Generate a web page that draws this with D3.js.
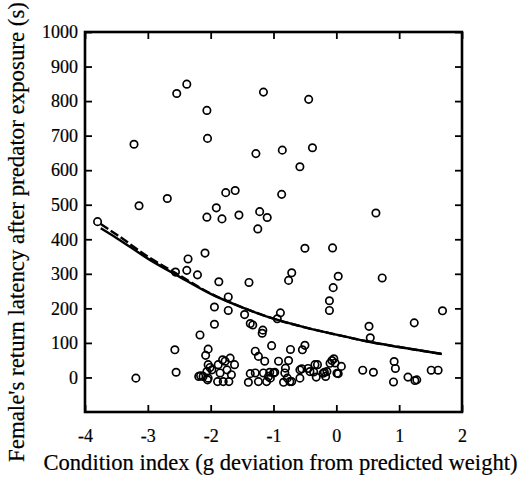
<!DOCTYPE html>
<html>
<head>
<meta charset="utf-8">
<script src="https://cdn.jsdelivr.net/npm/d3@7"></script>
<style>
  body { margin: 0; background: #fff; }
  text { font-family: "Liberation Serif", "DejaVu Serif", serif; fill: #000; stroke: #000; stroke-width: 0.2px; }
</style>
</head>
<body>
<svg id="chart" width="520" height="478"></svg>
<script>
// === dane ===
const xTicks = [-4, -3, -2, -1, 0, 1, 2];
const yTicks = [0, 100, 200, 300, 400, 500, 600, 700, 800, 900, 1000];

// punkty: [indeks kondycji, czas powrotu]
const points = [
    [-3.80, 451], [-3.22, 675], [-3.14, 497], [-2.69, 518], [-2.54, 822], [-2.38, 849],
    [-2.06, 773], [-2.05, 692], [-2.06, 464], [-1.91, 491], [-1.82, 459], [-1.76, 535],
    [-1.61, 541], [-1.55, 470], [-1.28, 648], [-1.22, 480], [-1.10, 463], [-1.25, 430],
    [-1.16, 826], [-0.44, 805], [-0.86, 658], [-0.38, 665], [-0.58, 610], [-0.87, 530],
    [0.63, 476],
    [-2.56, 305], [-2.36, 343], [-2.09, 360], [-2.38, 310], [-2.21, 297], [-1.87, 277],
    [-1.39, 275], [-1.72, 233], [-1.94, 204], [-1.72, 194], [-1.46, 182], [-1.37, 156],
    [-1.33, 152], [-1.94, 154], [-1.17, 137], [-1.18, 128], [-2.17, 123], [-0.50, 374],
    [-0.06, 375], [-0.71, 303], [-0.76, 281], [0.03, 293], [-0.05, 260], [0.73, 288],
    [-0.11, 222], [-0.11, 194], [1.69, 193], [-0.89, 187], [-0.94, 170], [0.52, 148],
    [1.24, 158], [0.54, 115],
    [-2.57, 80], [-2.55, 15], [-3.19, -2], [-2.08, 64], [-2.04, 82], [-2.16, 5],
    [-2.12, 3], [-2.04, -2], [-2.06, 17], [-2.04, 37], [-1.98, 22], [-1.88, 37],
    [-1.81, 51], [-1.77, 47], [-1.69, 56], [-1.62, 37], [-1.74, 22], [-1.85, 13],
    [-1.67, 8], [-1.89, -12], [-1.80, -12], [-1.71, -12], [-2.01, 29], [-2.19, 3],
    [-2.05, -7],
    [-1.03, 92], [-0.73, 81], [-0.54, 80], [-0.50, 93], [-1.29, 76], [-1.24, 61],
    [-1.14, 47], [-0.92, 47], [-0.76, 49], [-1.40, -14], [-1.37, 11], [-1.29, 13],
    [-1.24, -12], [-1.16, 13], [-1.11, -12], [-1.06, 15], [-1.00, 13], [-1.08, 3],
    [-0.98, 15], [-1.05, -2], [-0.84, -14], [-0.82, 13], [-0.81, 27], [-0.74, -12],
    [-0.78, -2], [-0.71, -12], [-0.58, -2], [-0.58, 22], [-0.55, 25], [-0.45, 26],
    [-0.42, 17], [-0.36, 16], [-0.34, 37], [-0.32, 1], [-0.30, 37], [-0.21, 12],
    [-0.19, 15], [-0.17, 3], [-0.15, 17], [-0.07, 49], [-0.04, 54], [-0.10, 41],
    [-0.02, 42], [0.08, 32], [0.03, 11], [0.01, 12], [0.42, 21], [0.59, 15],
    [0.92, 46], [0.94, 26], [0.91, -13], [1.14, 1], [1.25, -9], [1.28, -7],
    [1.51, 21], [1.62, 21]
];

// krzywe regresji (odczytane)
const fitX      = [-3.75, -3.5, -3.0, -2.5, -2.0, -1.5, -1.0, -0.5, 0.0, 0.5, 1.0, 1.68];
const fitSolid  = [432, 404, 344, 292, 242, 203, 170, 145, 124, 104, 88, 68];
const fitDashed = [444, 414, 350, 296, 243, 203, 170, 145, 124, 104, 88, 68];

// === wykres ===
const svg = d3.select("#chart");
const m = { left: 85, right: 462, top: 32, bottom: 412 };

const x = d3.scaleLinear().domain([-4, 2]).range([m.left, m.right]);
const y = d3.scaleLinear().domain([-100, 1000]).range([m.bottom, m.top]);

const inner = 7;

// osie z tickami do wewnątrz
svg.append("g")
    .attr("transform", `translate(0,${m.bottom})`)
    .call(d3.axisBottom(x).tickValues(xTicks).tickSize(-inner).tickPadding(17).tickFormat(d3.format("d")))
    .call(g => g.select(".domain").remove())
    .call(g => g.selectAll("line").attr("stroke-width", 1.8))
    .call(g => g.selectAll("text").style("font-size", "18px")
        .text(d => d < 0 ? "-" + Math.abs(d) : d));

svg.append("g")
    .attr("transform", `translate(0,${m.top})`)
    .call(d3.axisTop(x).tickValues(xTicks).tickSize(-inner).tickFormat(""))
    .call(g => g.select(".domain").remove())
    .call(g => g.selectAll("line").attr("stroke-width", 1.8));

svg.append("g")
    .attr("transform", `translate(${m.left},0)`)
    .call(d3.axisLeft(y).tickValues(yTicks).tickSize(-inner).tickPadding(7).tickFormat(d3.format("d")))
    .call(g => g.select(".domain").remove())
    .call(g => g.selectAll("line").attr("stroke-width", 1.8))
    .call(g => g.selectAll("text").style("font-size", "18px"));

svg.append("g")
    .attr("transform", `translate(${m.right},0)`)
    .call(d3.axisRight(y).tickValues(yTicks).tickSize(-inner).tickFormat(""))
    .call(g => g.select(".domain").remove())
    .call(g => g.selectAll("line").attr("stroke-width", 1.8));

// ramka
svg.append("rect")
    .attr("x", m.left).attr("y", m.top)
    .attr("width", m.right - m.left).attr("height", m.bottom - m.top)
    .attr("fill", "none").attr("stroke", "#000").attr("stroke-width", 2.6);

// krzywe
const line = d3.line().x(d => x(d[0])).y(d => y(d[1])).curve(d3.curveMonotoneX);

svg.append("path")
    .datum(fitX.map((v, i) => [v, fitDashed[i]]))
    .attr("d", line)
    .attr("fill", "none").attr("stroke", "#000").attr("stroke-width", 2.4)
    .attr("stroke-dasharray", "9,3");

svg.append("path")
    .datum(fitX.map((v, i) => [v, fitSolid[i]]))
    .attr("d", line)
    .attr("fill", "none").attr("stroke", "#000").attr("stroke-width", 2.4);

// punkty
svg.append("g").selectAll("circle")
    .data(points)
    .enter().append("circle")
    .attr("cx", d => x(d[0]))
    .attr("cy", d => y(d[1]))
    .attr("r", 3.7)
    .attr("fill", "none")
    .attr("stroke", "#000")
    .attr("stroke-width", 1.7);

// podpisy osi - rozmiar dopasowany do szerokości
function fitText(sel, width) {
    const w = sel.node().getComputedTextLength();
    sel.style("font-size", (20 * width / w).toFixed(2) + "px");
}

const xLabel = svg.append("text")
    .attr("x", 280.5)
    .attr("y", 470)
    .attr("text-anchor", "middle")
    .style("font-size", "20px")
    .text("Condition index (g deviation from predicted weight)");
fitText(xLabel, 474);

const yLabel = svg.append("text")
    .attr("transform", "translate(24,232) rotate(-90)")
    .attr("text-anchor", "middle")
    .style("font-size", "20px")
    .text("Female's return latency after predator exposure (s)");
fitText(yLabel, 460);
</script>
</body>
</html>
